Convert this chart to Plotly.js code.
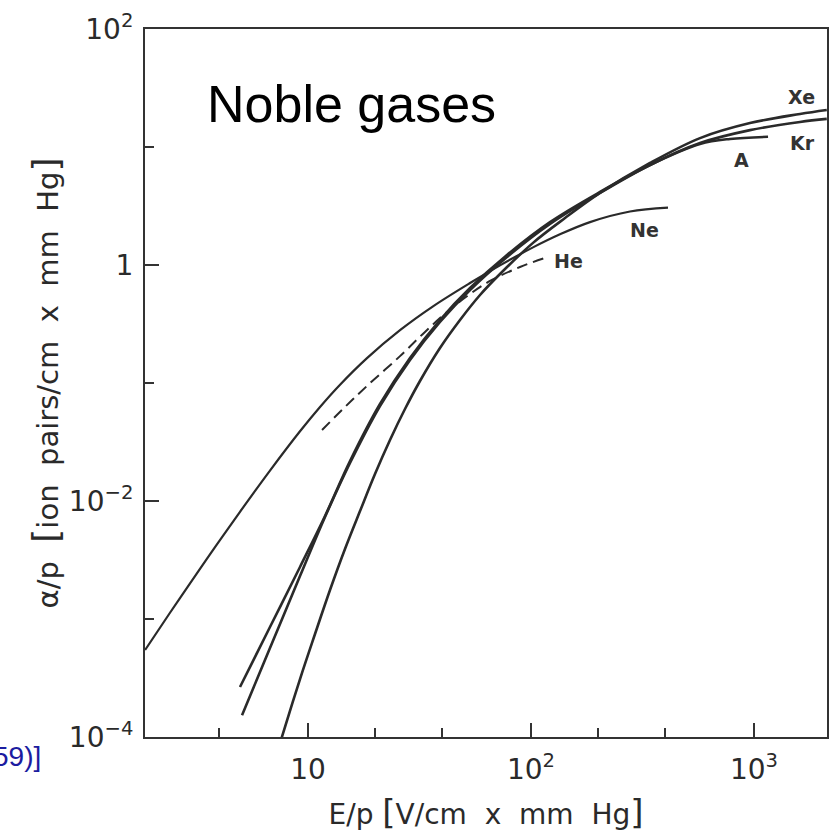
<!DOCTYPE html>
<html>
<head>
<meta charset="utf-8">
<script src="https://cdn.plot.ly/plotly-3.0.1.min.js"></script>
<style>
  html, body { margin: 0; padding: 0; background: #ffffff; }
  #chart { width: 831px; height: 835px; }
</style>
</head>
<body>
<div id="chart"></div>
<script>
// First Townsend coefficient alpha/p versus reduced field E/p for the noble gases.
// E/p in V/cm x mm Hg, alpha/p in ion pairs/cm x mm Hg.

const neE     = [1.86, 2.405, 2.958, 3.828, 4.955, 6.753, 9.207, 11.32, 13.92, 18.39, 25.86, 36.36, 53.29, 72.61, 102.1, 134.9, 183.9, 277.9, 411.5];
const neAlpha = [5.46e-4, 1.13e-3, 2.00e-3, 4.06e-3, 8.10e-3, 0.01811, 0.0390, 0.0627, 0.0968, 0.1626, 0.2806, 0.4467, 0.7036, 0.993, 1.41, 1.82, 2.31, 2.84, 3.06];

const heE     = [11.56, 14.65, 18.39, 25.86, 33.47, 42.01, 53.29, 65.5, 89.3, 119.1];
const heAlpha = [0.0400, 0.0626, 0.0944, 0.169, 0.271, 0.400, 0.568, 0.732, 0.962, 1.17];

const arE     = [4.955, 6.753, 9.207, 11.92, 15.43, 21.03, 28.67, 39.07, 53.29, 78.05, 121.7, 203.9, 341.8, 572.6, 780.6, 1156];
const arAlpha = [2.655e-4, 8.55e-4, 2.76e-3, 7.46e-3, 0.0218, 0.0664, 0.163, 0.342, 0.638, 1.216, 2.31, 4.16, 7.04, 10.6, 11.7, 12.2];

const krE     = [5.06, 6.753, 9.207, 11.92, 15.43, 21.03, 28.67, 39.07, 53.29, 78.05, 121.7, 203.9, 341.8, 572.6, 959.4, 1608, 2120];
const krAlpha = [1.53e-4, 5.68e-4, 2.31e-3, 7.32e-3, 0.0210, 0.0638, 0.157, 0.329, 0.614, 1.17, 2.23, 4.08, 7.04, 10.8, 13.9, 16.3, 17.3];

const xeE     = [7.41, 7.64, 9.21, 10.75, 12.55, 14.65, 17.11, 19.97, 23.32, 27.22, 31.78, 39.07, 48.04, 59.07, 72.6, 102.1, 142.1, 203.9, 341.8, 572.6, 959.4, 1608, 2120];
const xeAlpha = [8.22e-5, 1.0e-4, 3.10e-4, 7.46e-4, 1.76e-3, 3.92e-3, 8.22e-3, 0.01694, 0.0329, 0.0602, 0.104, 0.198, 0.342, 0.557, 0.839, 1.54, 2.50, 4.08, 7.32, 11.9, 15.95, 19.05, 20.6];

const xTickVals  = [10, 100, 1000];
const xTickText  = ['10', '10<sup>2</sup>', '10<sup>3</sup>'];
const xMinorVals = [4, 20, 40, 200, 400];

const yTickVals  = [100, 1, 0.01, 0.0001];
const yTickText  = ['10<sup>2</sup>', '1', '10<sup>\u22122</sup>', '10<sup>\u22124</sup>'];
const yMinorVals = [10, 0.1, 0.001];

const ink = '#2a2a2a';
const labelFont = { family: 'DejaVu Sans', size: 19, color: '#333333', weight: 'bold' };

function curve(name, xs, ys, width, dash) {
  return {
    type: 'scatter', mode: 'lines', name: name,
    x: xs, y: ys,
    line: { color: ink, width: width, dash: dash || 'solid', shape: 'spline', smoothing: 1 },
    hoverinfo: 'skip'
  };
}

const traces = [
  curve('Ne', neE, neAlpha, 2.2),
  curve('He', heE, heAlpha, 2, '11px,6px'),
  curve('A',  arE, arAlpha, 2.6),
  curve('Kr', krE, krAlpha, 2.6),
  curve('Xe', xeE, xeAlpha, 2.6)
];

// gas labels placed next to the last point of each curve
function endLabel(text, xs, ys, dx, dy) {
  const i = xs.length - 1;
  return {
    text: text, xref: 'x', yref: 'y',
    x: Math.log10(xs[i]), y: Math.log10(ys[i]),
    xshift: dx, yshift: dy, showarrow: false, font: labelFont
  };
}

const axisLine = { showline: true, linecolor: '#333333', linewidth: 2, mirror: true,
                   showgrid: false, zeroline: false, ticks: 'inside',
                   tickcolor: '#333333', tickwidth: 2, ticklen: 14 };

const layout = {
  width: 831, height: 835,
  margin: { l: 145, r: 4, t: 29, b: 98 },
  paper_bgcolor: '#ffffff', plot_bgcolor: '#ffffff',
  showlegend: false,
  xaxis: Object.assign({}, axisLine, {
    type: 'log',
    range: [Math.log10(1.858), Math.log10(2125)],
    tickmode: 'array', tickvals: xTickVals, ticktext: xTickText,
    minor: { tickmode: 'array', tickvals: xMinorVals, ticks: 'inside', ticklen: 9,
             tickwidth: 2, tickcolor: '#333333', showgrid: false },
    tickfont: { family: 'DejaVu Sans', size: 28, color: ink },
    ticklabelstandoff: 6,
    title: {
      text: 'E/p <span style="font-size:34px">[</span>V/cm  x  mm  Hg<span style="font-size:34px">]</span>',
      font: { family: 'DejaVu Sans', size: 28, color: ink },
      standoff: 20
    }
  }),
  yaxis: Object.assign({}, axisLine, {
    type: 'log',
    range: [-4, 2],
    tickmode: 'array', tickvals: yTickVals, ticktext: yTickText,
    minor: { tickmode: 'array', tickvals: yMinorVals, ticks: 'inside', ticklen: 9,
             tickwidth: 2, tickcolor: '#333333', showgrid: false },
    tickfont: { family: 'DejaVu Sans', size: 28, color: ink },
    ticklabelstandoff: 4,
    title: {
      text: '\u03b1/p  <span style="font-size:36px">[</span>ion  pairs/cm  x  mm  Hg<span style="font-size:36px">]</span>',
      font: { family: 'DejaVu Sans', size: 29, color: ink },
      standoff: 2
    }
  }),
  annotations: [
    endLabel('Xe', xeE, xeAlpha, -25, 13),
    endLabel('Kr', krE, krAlpha, -24, -24),
    endLabel('A',  arE, arAlpha, -27, -23),
    endLabel('Ne', neE, neAlpha, -24, -22),
    endLabel('He', heE, heAlpha, 21, -4),
    {
      text: 'Noble gases', xref: 'paper', yref: 'paper',
      x: 0.088, y: 0.894, xanchor: 'left', yanchor: 'middle', showarrow: false,
      font: { family: 'Liberation Sans', size: 52, color: '#000000' }
    },
    {
      text: '59)]', xref: 'paper', yref: 'paper',
      x: -0.1496, y: -0.028, xanchor: 'right', yanchor: 'middle', showarrow: false,
      font: { family: 'Liberation Sans', size: 28, color: '#1c1ca0' }
    }
  ]
};

Plotly.newPlot('chart', traces, layout, { staticPlot: true, displayModeBar: false });
</script>
</body>
</html>
